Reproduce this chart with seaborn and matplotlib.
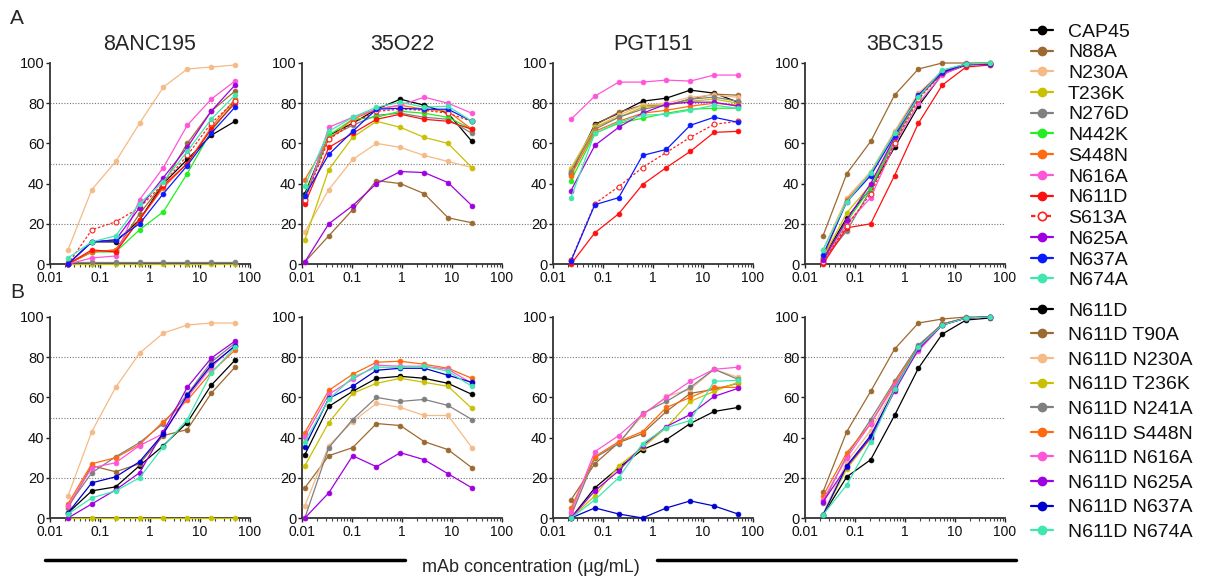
import matplotlib
matplotlib.use("Agg")
import matplotlib.pyplot as plt
from matplotlib.lines import Line2D
from matplotlib.ticker import FixedLocator, FuncFormatter, LogLocator, NullFormatter
import seaborn as sns

# concentrations (ug/mL)
conc_50 = [0.0229, 0.0686, 0.206, 0.617, 1.85, 5.56, 16.7, 50]
conc_25 = [0.0114, 0.0343, 0.103, 0.309, 0.926, 2.78, 8.33, 25]

titles = ["8ANC195", "35O22", "PGT151", "3BC315"]

# ---------------- row A: single mutants ----------------
variants_a = ["CAP45", "N88A", "N230A", "T236K", "N276D", "N442K", "S448N",
              "N616A", "N611D", "S613A", "N625A", "N637A", "N674A"]
colors_a = ["#000000", "#9c6a30", "#f5ba85", "#c8c000", "#808080", "#22ee22", "#ff6a10",
            "#ff55d8", "#ff1010", "#ff2020", "#a000e0", "#0a1aff", "#40e6b0"]

a_8anc195 = {
    "CAP45": [0, 11, 11, 22, 40, 52, 64, 71],
    "N88A": [0, 6, 7, 25, 40, 60, 76, 86],
    "N230A": [7, 37, 51, 70, 88, 97, 98, 99],
    "T236K": [0, 0, 0, 0, 0, 0, 0, 0],
    "N276D": [1, 1, 1, 1, 1, 1, 1, 1],
    "N442K": [0, 6, 6, 17, 26, 45, 66, 81],
    "S448N": [0, 6, 7, 22, 38, 50, 68, 82],
    "N616A": [0, 3, 4, 32, 48, 69, 82, 91],
    "N611D": [0, 7, 6, 22, 39, 50, 67, 80],
    "S613A": [0, 17, 21, 28, 40, 54, 70, 81],
    "N625A": [0, 11, 12, 28, 43, 58, 76, 89],
    "N637A": [0, 11, 12, 20, 35, 49, 65, 78],
    "N674A": [3, 11, 14, 30, 41, 56, 72, 84],
}
a_35o22 = {
    "CAP45": [35, 64, 70, 77, 82, 79, 75, 61],
    "N88A": [1, 14, 27, 41.5, 40, 35, 23, 20.5],
    "N230A": [16, 37, 52, 60, 58, 54, 51, 48],
    "T236K": [12, 47, 63, 71, 68, 63, 60, 48],
    "N276D": [33, 63, 69, 74, 75, 73, 72, 65],
    "N442K": [34, 64, 72, 73, 76, 75, 73, 67],
    "S448N": [42, 62, 72, 77, 79, 77, 76, 67],
    "N616A": [31, 68, 73, 77, 79, 83, 80, 75],
    "N611D": [30, 58, 65, 72, 74.5, 72, 71, 67],
    "S613A": [32, 62, 70, 76, 77, 76.5, 75, 71],
    "N625A": [1, 20, 29, 40, 46, 45.5, 40.5, 29],
    "N637A": [34, 54.5, 66, 77, 77.5, 77, 77, 71],
    "N674A": [39, 66, 73, 78, 80.5, 78, 78.5, 71],
}
a_pgt151 = {
    "CAP45": [45, 69.5, 75, 81, 82.5, 86.5, 85, 80.5],
    "N88A": [46, 69, 75.5, 79, 79, 82, 84.5, 84],
    "N230A": [48, 68, 74, 79, 80, 83, 84, 83],
    "T236K": [47, 68, 73, 78, 79, 81, 82, 80],
    "N276D": [46, 67, 73, 77, 79, 82, 83, 81],
    "N442K": [41.5, 65, 70, 72.5, 75, 77, 77.5, 77.5],
    "S448N": [44, 66, 71, 75, 76.5, 78.5, 80, 79],
    "N616A": [72, 83.5, 90.5, 90.5, 91.5, 91, 94, 94],
    "N611D": [0, 15.5, 25, 39.5, 48, 56, 65.5, 66],
    "S613A": [2, 30, 38.5, 48, 55.5, 63, 69.5, 71],
    "N625A": [36.5, 59, 68, 75, 79.5, 80.5, 80.5, 78.5],
    "N637A": [1.5, 29.5, 33, 54, 57, 69, 73, 70.5],
    "N674A": [33, 65, 70.5, 74, 74.5, 76.5, 79, 77.5],
}
a_3bc315 = {
    "CAP45": [3, 23, 37.5, 58, 78.5, 94.5, 99, 99.5],
    "N88A": [14, 45, 61, 84, 97, 100, 100, 100],
    "N230A": [7, 33, 46, 66, 85, 96, 99.5, 100],
    "T236K": [3, 25.5, 39.5, 62, 83, 95, 99.5, 100],
    "N276D": [2, 16.5, 37, 61, 83, 95, 99.5, 100],
    "N442K": [2, 21, 38, 62, 83, 95, 99.5, 100],
    "S448N": [3, 32, 45, 65, 84, 96, 99.5, 100],
    "N616A": [1, 20, 33, 59.5, 80, 94, 99.5, 99],
    "N611D": [0, 18, 20, 44, 70, 89, 98, 99],
    "S613A": [1, 19, 35, 60, 82, 95, 99.5, 99.5],
    "N625A": [2, 22, 40, 63, 83.5, 95, 99.5, 99.5],
    "N637A": [4.5, 31, 44, 64, 84, 95.5, 99.5, 99.5],
    "N674A": [7, 31, 45.5, 65, 83, 96.5, 99.5, 100],
}

# ---------------- row B: N611D double mutants ----------------
variants_b = ["N611D", "N611D T90A", "N611D N230A", "N611D T236K", "N611D N241A",
              "N611D S448N", "N611D N616A", "N611D N625A", "N611D N637A", "N611D N674A"]
colors_b = ["#000000", "#9c6a30", "#f5ba85", "#c8c000", "#808080",
            "#ff6a10", "#ff55d8", "#a000e0", "#0000cc", "#40e6b0"]

b_8anc195 = {
    "N611D": [2.5, 13.5, 15.5, 26, 36, 47.5, 66, 78.5],
    "N611D T90A": [5, 26, 23, 27, 41, 44, 62, 75],
    "N611D N230A": [11, 43, 65, 82, 92, 96, 97, 97],
    "N611D T236K": [0, 0, 0, 0, 0, 0, 0, 0],
    "N611D N241A": [6, 22.5, 30.5, 37.5, 47, 61.5, 77.5, 87],
    "N611D S448N": [7, 27, 30, 36.5, 48, 58.5, 72.5, 83.5],
    "N611D N616A": [6, 25, 27.5, 36, 42, 60, 75, 86],
    "N611D N625A": [0, 7, 14, 22.5, 43, 65, 79.5, 88],
    "N611D N637A": [2.5, 17.5, 20.5, 28, 42, 61, 76, 85.5],
    "N611D N674A": [2, 10, 13.5, 20, 35.5, 49, 72, 85],
}
b_35o22 = {
    "N611D": [31.5, 55.5, 63, 69.5, 70.5, 69.5, 67, 61.5],
    "N611D T90A": [15, 31, 35, 47, 46, 38, 34, 25],
    "N611D N230A": [6, 36, 48, 57, 55, 51, 51, 35],
    "N611D T236K": [26, 47.5, 62, 67, 69.5, 67.5, 65.5, 54.5],
    "N611D N241A": [0, 35, 49, 60, 58, 59, 56, 49],
    "N611D S448N": [42.5, 63.5, 71.5, 77.5, 78, 76.5, 74.5, 69.5],
    "N611D N616A": [40.5, 61.5, 69, 76, 75.5, 75.5, 74, 67],
    "N611D N625A": [0, 12.5, 31, 25.5, 32.5, 29, 22, 15],
    "N611D N637A": [35.5, 59.5, 65.5, 73.5, 74.5, 74.5, 71, 67.5],
    "N611D N674A": [38, 59, 70, 75, 75, 75.5, 73, 65.5],
}
b_pgt151 = {
    "N611D": [0, 15, 25, 34, 39, 47, 53, 55],
    "N611D T90A": [9, 27, 37.5, 42, 53, 62, 64, 67],
    "N611D N230A": [2, 30, 37.5, 51, 60.5, 64, 74, 70],
    "N611D T236K": [0, 11, 26, 35, 45, 58, 63, 67.5],
    "N611D N241A": [1, 30, 37, 52, 58, 65, 74, 69],
    "N611D S448N": [5, 30.5, 38, 43, 55, 60, 65, 65],
    "N611D N616A": [3, 33, 41, 51.5, 60, 68, 74, 75],
    "N611D N625A": [0, 13.5, 23.5, 36, 45.5, 51.5, 60.5, 64.5],
    "N611D N637A": [0, 5, 2, 0, 5, 8.5, 6, 2],
    "N611D N674A": [0, 9, 20, 37, 45, 48.5, 68, 68.5],
}
b_3bc315 = {
    "N611D": [1.5, 20.5, 29, 51, 74.5, 91.5, 98.5, 99.5],
    "N611D T90A": [13, 43, 63, 84, 97, 99, 100, 100],
    "N611D N230A": [2, 28, 43.5, 65, 84, 96.5, 99.5, 100],
    "N611D T236K": [1.5, 24.5, 39.5, 64, 85.5, 96.5, 99.5, 100],
    "N611D N241A": [7.5, 31, 49, 68, 86, 96.5, 99.5, 100],
    "N611D S448N": [11, 32.5, 47, 67, 85, 96.5, 99.5, 100],
    "N611D N616A": [9, 30, 47, 66, 83, 96, 99.5, 100],
    "N611D N625A": [8, 25.5, 40, 63, 84, 96, 99.5, 100],
    "N611D N637A": [1.5, 26, 41, 64, 85, 96, 99.5, 100],
    "N611D N674A": [1.5, 16.5, 38, 64, 85, 96, 99.5, 100],
}

rows = [
    (variants_a, colors_a, [a_8anc195, a_35o22, a_pgt151, a_3bc315]),
    (variants_b, colors_b, [b_8anc195, b_35o22, b_pgt151, b_3bc315]),
]
panel_x = [conc_50, conc_25, conc_50, conc_50]

sns.set_style("ticks")
plt.rcParams["font.family"] = ["Liberation Sans", "DejaVu Sans"]

W, H = 1215, 581
fig = plt.figure(figsize=(W / 100, H / 100), dpi=100)

lefts = [50, 302, 553, 805]
tops = [63, 317]
aw, ah = 200, 201


def fmt_x(v, pos):
    return {0.01: "0.01", 0.1: "0.1", 1: "1", 10: "10", 100: "100"}.get(round(v, 2), "")


for r, (variants, colors, panels) in enumerate(rows):
    for c in range(4):
        ax = fig.add_axes([lefts[c] / W, 1 - (tops[r] + ah) / H, aw / W, ah / H])
        ax.set_xscale("log")
        data = panels[c]
        for name, col in zip(variants, colors):
            if name == "S613A":
                sns.lineplot(x=panel_x[c], y=data[name], ax=ax, color=col, linestyle=(0, (2, 1.5)),
                             marker="o", markersize=3.5, mfc="white", mec=col, mew=0.8,
                             linewidth=0.9, clip_on=False, zorder=3)
            else:
                sns.lineplot(x=panel_x[c], y=data[name], ax=ax, color=col,
                             marker="o", markersize=3.5, mfc=col, mec=col, mew=0.5,
                             linewidth=0.9, clip_on=False, zorder=3)
        ax.set_xlim(0.01, 100)
        ax.set_ylim(0, 100)
        ax.xaxis.set_major_locator(FixedLocator([0.01, 0.1, 1, 10, 100]))
        ax.xaxis.set_major_formatter(FuncFormatter(fmt_x))
        ax.xaxis.set_minor_locator(LogLocator(base=10, subs=range(2, 10)))
        ax.xaxis.set_minor_formatter(NullFormatter())
        ax.set_yticks([0, 20, 40, 60, 80, 100])
        ax.tick_params(axis="y", labelsize=10.5, length=3, width=1, colors="#222222",
                       labelcolor="#111111", pad=1)
        ax.tick_params(axis="x", which="major", labelsize=10, length=3, width=1,
                       colors="#222222", labelcolor="#111111", pad=2)
        ax.tick_params(axis="x", which="minor", length=2, width=0.8, colors="#444444")
        for s in ["left", "bottom"]:
            ax.spines[s].set_color("#333333")
            ax.spines[s].set_linewidth(1.3)
        sns.despine(ax=ax)
        # dotted reference lines spanning across to the next panel
        span = 1.0 if c == 3 else (lefts[c + 1] - lefts[c]) / aw
        for yv in [20, 50, 80]:
            ax.plot([0, span], [yv, yv], transform=ax.get_yaxis_transform(),
                    color="#777777", linestyle=(0, (1, 1.5)), linewidth=0.8,
                    clip_on=False, zorder=1)
        ax.set_xlabel("")
        ax.set_ylabel("")
        if r == 0:
            ax.set_title(titles[c], fontsize=15.5, pad=9)

fig.text(10 / W, 1 - 18 / H, "A", fontsize=15, va="center", ha="left")
fig.text(10 / W, 1 - 292 / H, "B", fontsize=15, va="center", ha="left")


def make_handles(variants, colors):
    hs = []
    for name, col in zip(variants, colors):
        if name == "S613A":
            hs.append(Line2D([0], [0], color=col, linestyle=(0, (2, 1.5)), lw=1.6,
                             marker="o", markersize=6, mfc="white", mec=col, mew=1.2))
        else:
            hs.append(Line2D([0], [0], color=col, lw=1.6, marker="o", markersize=6,
                             mfc=col, mec=col))
    return hs


fig.legend(make_handles(variants_a, colors_a), variants_a, loc="upper left",
           bbox_to_anchor=(1031 / W, 1 - 23 / H), frameon=False, fontsize=14,
           labelspacing=0.16, handlelength=1.15, handletextpad=0.75, borderaxespad=0,
           borderpad=0, labelcolor="#111111")
fig.legend(make_handles(variants_b, colors_b), variants_b, loc="upper left",
           bbox_to_anchor=(1031 / W, 1 - 302 / H), frameon=False, fontsize=14,
           labelspacing=0.36, handlelength=1.15, handletextpad=0.75, borderaxespad=0,
           borderpad=0, labelcolor="#111111")

# bottom axis label with bars
fig.add_artist(Line2D([45 / W, 405 / W], [1 - 560 / H, 1 - 560 / H], color="black", lw=2.5))
fig.add_artist(Line2D([657 / W, 1016 / W], [1 - 560 / H, 1 - 560 / H], color="black", lw=2.5))
fig.text(531 / W, 1 - 568 / H, "mAb concentration (\u00b5g/mL)", fontsize=13,
         ha="center", va="center")

fig.savefig("out.png", dpi=100)
